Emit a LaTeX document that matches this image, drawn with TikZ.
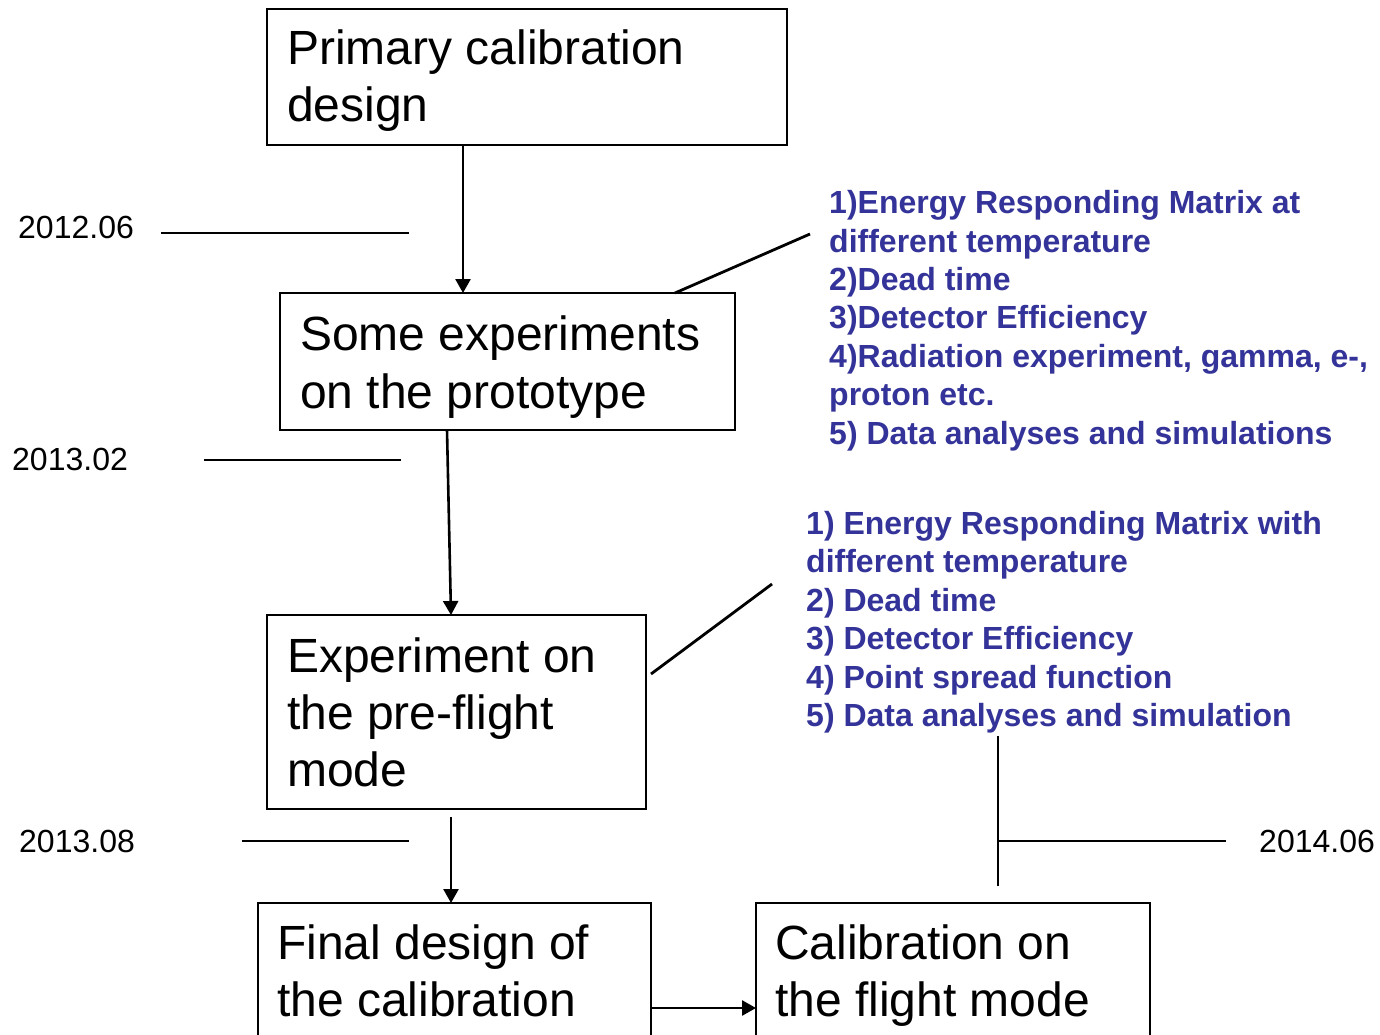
\documentclass[tikz,border=0pt]{standalone}
\usepackage{fontspec}
\setmainfont{Liberation Sans}
\usetikzlibrary{arrows.meta}
\definecolor{itemblue}{RGB}{51,51,153}
\tikzset{
  box/.style={draw, line width=2.5pt, anchor=north west, inner sep=0pt, outer sep=0pt},
  big/.style={anchor=base west, inner sep=0pt, font=\fontsize{48}{57}\selectfont},
  item/.style={anchor=base west, inner sep=0pt, text=itemblue, font=\fontsize{32}{38.5}\selectfont\bfseries},
  date/.style={anchor=base west, inner sep=0pt, font=\fontsize{32}{38.5}\selectfont},
  ln/.style={line width=2.8pt},
  arr/.style={line width=2.6pt, -{Triangle[width=15pt,length=14pt]}}
}
\begin{document}
\begin{tikzpicture}[x=1pt,y=-1pt]
\useasboundingbox (0,0) rectangle (1380,1035);
\clip (0,0) rectangle (1380,1035);
% boxes
\node[box, minimum width=520pt, minimum height=136pt] (b1) at (267,9) {};
\node[box, minimum width=455pt, minimum height=137pt] (b2) at (280,293) {};
\node[box, minimum width=379pt, minimum height=194pt] (b3) at (267,615) {};
\node[box, minimum width=393pt, minimum height=160pt] (b4) at (258,903) {};
\node[box, minimum width=394pt, minimum height=160pt] (b5) at (756,903) {};
% box texts
\node[big] (t1a) at (287,65) {Primary calibration};
\node[big] (t1b) at (287,122) {design};
\node[big] (t2a) at (300,350) {Some experiments};
\node[big] (t2b) at (300,408) {on the prototype};
\node[big] (t3a) at (287,672) {Experiment on};
\node[big] (t3b) at (287,729) {the pre-flight};
\node[big] (t3c) at (287,786) {mode};
\node[big] (t4a) at (277,959) {Final design of};
\node[big] (t4b) at (277,1016) {the calibration};
\node[big] (t5a) at (775,959) {Calibration on};
\node[big] (t5b) at (775,1016) {the flight mode};
% arrows
\draw[arr] ([xshift=196pt]b1.south west) -- ([xshift=183pt]b2.north west);
\draw[arr] ([xshift=167pt]b2.south west) -- ([xshift=184pt]b3.north west);
\draw[arr] ([shift={(184pt,-8pt)}]b3.south west) -- ([xshift=193pt]b4.north west);
\draw[arr] ([yshift=-105pt]b4.north east) -- ([yshift=-105pt]b5.north west);
% blue lists
\node[item] (i1) at (829,213) {1)Energy Responding Matrix at};
\node[item] (i2) at (829,252) {different temperature};
\node[item] (i3) at (829,290) {2)Dead time};
\node[item] (i4) at (829,328) {3)Detector Efficiency};
\node[item] (i5) at (829,367) {4)Radiation experiment, gamma, e-,};
\node[item] (i6) at (829,405) {proton etc.};
\node[item] (i7) at (829,444) {5) Data analyses and simulations};
\node[item] (j1) at (806,534) {1) Energy Responding Matrix with};
\node[item] (j2) at (806,572) {different temperature};
\node[item] (j3) at (806,611) {2) Dead time};
\node[item] (j4) at (806,649) {3) Detector Efficiency};
\node[item] (j5) at (806,688) {4) Point spread function};
\node[item] (j6) at (806,726) {5) Data analyses and simulation};
% leader lines
\coordinate (c1) at (810,234);
\coordinate (c2) at (772,584);
\draw[ln] ([xshift=395pt]b2.north west) -- (c1);
\draw[ln] ([shift={(5pt,-59pt)}]b3.north east) -- (c2);
% dates
\node[date] (d1) at (18,238) {2012.06};
\node[date] (d2) at (12,470) {2013.02};
\node[date] (d3) at (19,852) {2013.08};
\node[date] (d4) at (1259,852) {2014.06};
\coordinate (l1a) at (161,233); \coordinate (l1b) at (409,233);
\coordinate (l2a) at (204,460); \coordinate (l2b) at (401,460);
\coordinate (l3a) at (242,841); \coordinate (l3b) at (409,841);
\coordinate (v1) at (998,736); \coordinate (v2) at (998,886);
\coordinate (h1) at (998,841); \coordinate (h2) at (1226,841);
\draw[ln] (l1a) -- (l1b);
\draw[ln] (l2a) -- (l2b);
\draw[ln] (l3a) -- (l3b);
\draw[ln] (v1) -- (v2);
\draw[ln] (h1) -- (h2);
\end{tikzpicture}
\end{document}
